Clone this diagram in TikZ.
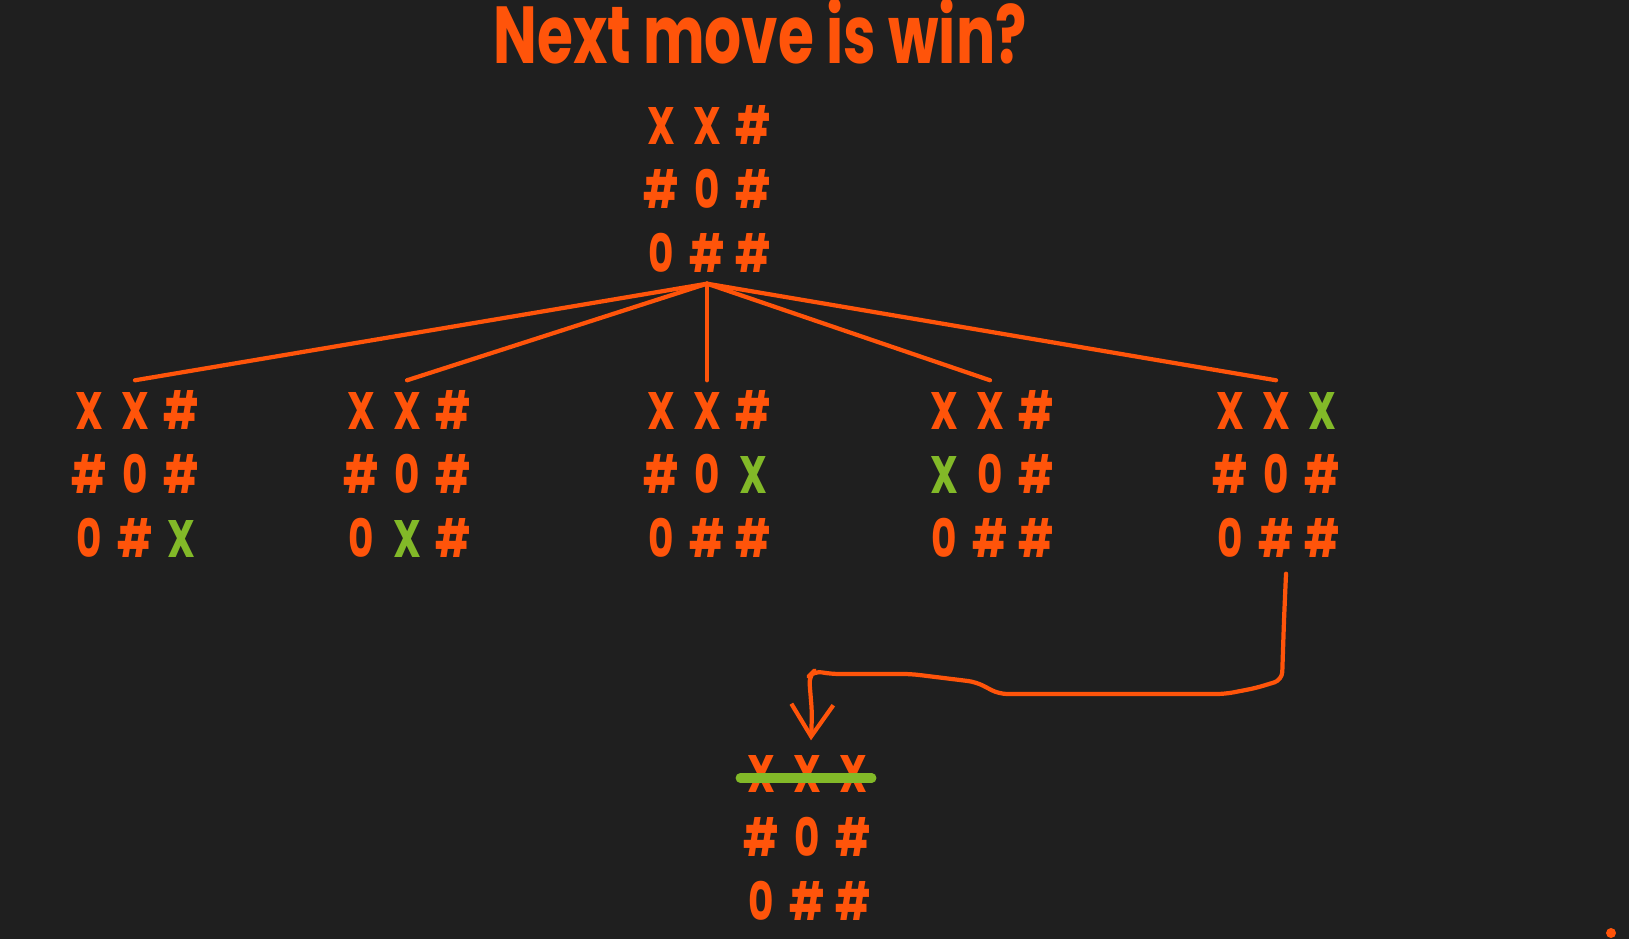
\documentclass[tikz,border=0pt]{standalone}
\usepackage{fontspec}
\setmainfont{Poppins}
\newfontfamily\jeu{Poppins}[FakeStretch=0.74]
\newfontfamily\titrefont{Poppins}[FakeStretch=0.72]
\usetikzlibrary{matrix,arrows.meta}

\definecolor{fond}{RGB}{31,31,31}
\definecolor{orangevif}{RGB}{255,84,10}
\definecolor{vertvif}{RGB}{130,185,40}

\tikzset{
    case/.style={minimum width=0.46cm, minimum height=0.64cm, inner sep=0pt,
        text height=0.3cm, text depth=0pt,
        font=\jeu\fontsize{15}{15}\selectfont\bfseries, text=orangevif},
    grille/.style={matrix of nodes, nodes={case}, column sep=0pt, row sep=0pt, inner sep=0pt},
    gagne/.style={text=vertvif},
    branche/.style={orangevif, line width=1.2pt, line cap=round},
    barre/.style={vertvif, line width=2.7pt, line cap=round},
    fleche/.style={orangevif, line width=1.2pt, line cap=round, line join=round,
        rounded corners=0.08cm,
        -{Straight Barb[length=0.32cm, width=0.42cm, line width=1.2pt]}},
}

\begin{document}
\begin{tikzpicture}
    % Fond
    \fill[fond] (0,0) rectangle (16.29,9.39);
    \useasboundingbox (0,0) rectangle (16.29,9.39);

    % Titre
    \node[text=orangevif, font=\titrefont\fontsize{23}{23}\selectfont\bfseries] (titre) at (7.60,9.08) {Next move is win?};

    % Grille de depart
    \matrix (b0) [grille] at (7.07,7.45) {
        X & X & \# \\
        \# & 0 & \# \\
        0 & \# & \# \\
    };

    % Coups possibles
    \matrix (b1) [grille] at (1.35,4.60) {
        X & X & \# \\
        \# & 0 & \# \\
        0 & \# & |[gagne]| X \\
    };
    \matrix (b2) [grille] at (4.07,4.60) {
        X & X & \# \\
        \# & 0 & \# \\
        0 & |[gagne]| X & \# \\
    };
    \matrix (b3) [grille] at (7.07,4.60) {
        X & X & \# \\
        \# & 0 & |[gagne]| X \\
        0 & \# & \# \\
    };
    \matrix (b4) [grille] at (9.90,4.60) {
        X & X & \# \\
        |[gagne]| X & 0 & \# \\
        0 & \# & \# \\
    };
    \matrix (b5) [grille] at (12.76,4.60) {
        X & X & |[gagne]| X \\
        \# & 0 & \# \\
        0 & \# & \# \\
    };

    % Branches
    \foreach \i in {1,...,5} {
        \draw[branche] ([yshift=0.07cm]b0.south) -- ([yshift=0.02cm]b\i.north);
    }

    % Grille gagnante
    \matrix (bw) [grille] at (8.07,0.97) {
        X & X & X \\
        \# & 0 & \# \\
        0 & \# & \# \\
    };
    \draw[barre] ([xshift=0.03cm]bw-1-1.west) -- ([xshift=-0.05cm]bw-1-3.east);

    % Fleche vers le coup gagnant
    \draw[fleche] ([xshift=0.1cm,yshift=0.02cm]b5.south) -- (12.84,3.19) -- (12.82,2.59)
        -- (12.56,2.51) -- (12.25,2.45) -- (9.99,2.45) -- (9.76,2.57) -- (9.11,2.65)
        -- (8.31,2.65) -- (8.14,2.68) -- (8.09,2.63) -- (8.12,2.26) -- ([xshift=0.04cm,yshift=0.05cm]bw.north);

    % Point
    \fill[orangevif] (16.11,0.06) circle (0.05);
\end{tikzpicture}
\end{document}
